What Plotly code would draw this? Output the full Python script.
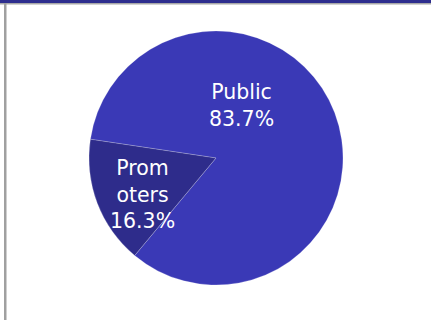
import plotly.graph_objects as go

labels = ["Public", "Promoters"]
values = [83.7, 16.3]
display_labels = ["Public", "Prom<br>oters"]
colors = ["#3A39B6", "#2E2C8B"]

W, H = 431, 320
cx, cy, r = 216, 158, 127

fig = go.Figure(go.Pie(
    labels=labels,
    values=values,
    sort=False,
    direction="clockwise",
    rotation=-81.5,
    marker=dict(colors=colors, line=dict(color="rgba(255,255,255,0.35)", width=0.6)),
    textinfo="none",
    hoverinfo="label+percent",
    showlegend=False,
    domain=dict(x=[(cx - r) / W, (cx + r) / W], y=[(H - cy - r) / H, (H - cy + r) / H]),
))

total = sum(values)
label_pos = [(241, 105), (142, 194)]
for txt, v, (px, py) in zip(display_labels, values, label_pos):
    fig.add_annotation(
        x=px / W, y=1 - py / H, xref="paper", yref="paper",
        text=f"{txt}<br>{v / total * 100:.1f}%",
        showarrow=False,
        font=dict(family="DejaVu Sans, sans-serif", size=20.5, color="white"),
        align="center", xanchor="center", yanchor="middle",
    )

# frame decorations
fig.add_shape(type="rect", xref="paper", yref="paper", x0=0, x1=1, y0=1 - 3 / H, y1=1,
              fillcolor="#2E2E8E", line=dict(width=0), layer="above")
fig.add_shape(type="rect", xref="paper", yref="paper", x0=0, x1=1, y0=1 - 4.5 / H, y1=1 - 3 / H,
              fillcolor="#A8A8A8", line=dict(width=0), layer="above")
fig.add_shape(type="rect", xref="paper", yref="paper", x0=4 / W, x1=6.5 / W, y0=0, y1=1 - 3 / H,
              fillcolor="#A0A0A0", line=dict(width=0), layer="above")

fig.update_layout(
    width=W, height=H,
    margin=dict(l=0, r=0, t=0, b=0),
    paper_bgcolor="white",
    plot_bgcolor="white",
)

fig.write_html("out.html", config={"displayModeBar": False})
